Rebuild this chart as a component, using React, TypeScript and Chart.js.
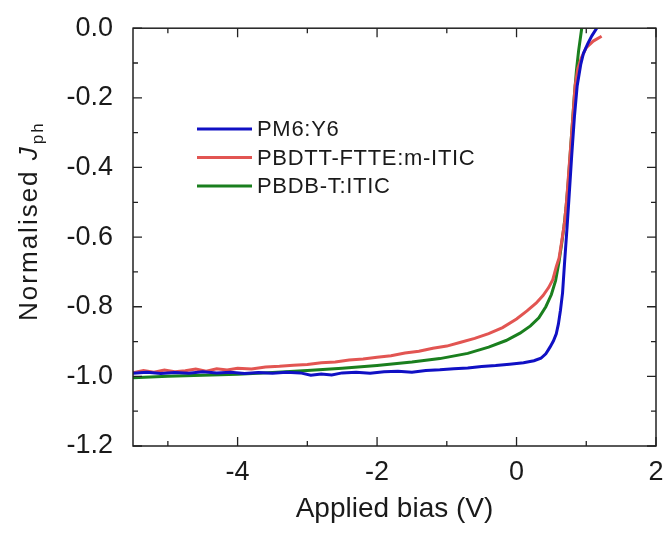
import React, { useEffect, useRef } from 'react';
import { Chart, registerables } from 'chart.js';

Chart.register(...registerables);

// ---- Data ----
const X_RANGE = [-5.5, 2];
const Y_RANGE = [-1.2, 0];
const X_TICKS = [-4, -2, 0, 2];
const X_MINOR = [-5, -3, -1, 1];
const Y_TICKS = [-1.2, -1.0, -0.8, -0.6, -0.4, -0.2, 0.0];
const Y_MINOR = [-1.1, -0.9, -0.7, -0.5, -0.3, -0.1];

const SERIES_LABELS = ['PM6:Y6', 'PBDTT-FTTE:m-ITIC', 'PBDB-T:ITIC'];

const PM6_X = [-5.5, -5.3, -5.1, -4.9, -4.7, -4.5, -4.3, -4.1, -3.9, -3.7, -3.5, -3.3, -3.1, -2.95, -2.8, -2.65, -2.5, -2.3, -2.1, -1.9, -1.7, -1.5, -1.3, -1.1, -0.9, -0.7, -0.5, -0.3, -0.1, 0.1, 0.25, 0.35, 0.42, 0.48, 0.53, 0.57, 0.6, 0.63, 0.66, 0.69, 0.72, 0.75, 0.79, 0.83, 0.87, 0.92, 0.96, 1.02, 1.08, 1.15];
const PM6_Y = [-0.991, -0.988, -0.992, -0.989, -0.991, -0.987, -0.99, -0.988, -0.992, -0.989, -0.991, -0.988, -0.99, -0.997, -0.993, -0.996, -0.99, -0.988, -0.991, -0.987, -0.985, -0.988, -0.983, -0.981, -0.978, -0.976, -0.972, -0.969, -0.965, -0.961, -0.955, -0.948, -0.935, -0.916, -0.898, -0.878, -0.85, -0.81, -0.76, -0.67, -0.585, -0.495, -0.37, -0.255, -0.165, -0.105, -0.072, -0.045, -0.022, 0.0];

const FTTE_X = [-5.5, -5.35, -5.2, -5.05, -4.9, -4.75, -4.6, -4.45, -4.3, -4.15, -4.0, -3.8, -3.6, -3.4, -3.2, -3.0, -2.8, -2.6, -2.4, -2.2, -2.0, -1.8, -1.6, -1.4, -1.2, -1.0, -0.8, -0.6, -0.4, -0.2, 0.0, 0.15, 0.28, 0.38, 0.46, 0.52, 0.57, 0.61, 0.65, 0.69, 0.72, 0.75, 0.78, 0.81, 0.84, 0.88, 0.93, 1.0, 1.1, 1.22];
const FTTE_Y = [-0.99, -0.983, -0.988, -0.982, -0.987, -0.984, -0.979, -0.985, -0.978, -0.982, -0.977, -0.979, -0.973, -0.971, -0.968, -0.966, -0.961, -0.959, -0.953, -0.95, -0.945, -0.941, -0.933, -0.928, -0.919, -0.913, -0.902, -0.891, -0.877, -0.86, -0.835, -0.812, -0.79, -0.768, -0.745, -0.722, -0.685, -0.66, -0.61, -0.555, -0.49, -0.41, -0.33, -0.25, -0.165, -0.115, -0.085, -0.056, -0.037, -0.023];

const ITIC_X = [-5.5, -5.0, -4.5, -4.0, -3.5, -3.0, -2.5, -2.0, -1.5, -1.1, -0.7, -0.4, -0.15, 0.05, 0.2, 0.32, 0.42, 0.5, 0.56, 0.61, 0.65, 0.68, 0.71, 0.74, 0.77, 0.8, 0.83, 0.86, 0.89, 0.935];
const ITIC_Y = [-1.004, -1.0, -0.997, -0.994, -0.989, -0.983, -0.977, -0.969, -0.959, -0.949, -0.934, -0.916, -0.897, -0.876, -0.855, -0.832, -0.8, -0.765, -0.725, -0.67, -0.615, -0.57, -0.515, -0.445, -0.36, -0.275, -0.19, -0.12, -0.065, 0.0];

const X_TITLE = 'Applied bias (V)';
const Y_TITLE_MAIN = 'Normalised ';
const Y_TITLE_ITALIC = 'J';
const Y_TITLE_SUB = 'ph';

// ---- Styles ----
const FONT = '"Liberation Sans", Arial, sans-serif';
const TEXT = '#1a1a1a';
const FRAME = '#222222';
const COLORS = ['#1010c4', '#e25552', '#1a7f1e'];

const toPoints = (xs: number[], ys: number[]) => xs.map((x, i) => ({ x, y: ys[i] }));

const framePlugin = {
  id: 'frameTicks',
  afterDatasetsDraw(chart: any) {
    const { ctx, chartArea: a, scales } = chart;
    const xs = scales.x, ys = scales.y;
    ctx.save();
    ctx.strokeStyle = FRAME;
    ctx.lineWidth = 1.5;
    ctx.strokeRect(a.left, a.top, a.right - a.left, a.bottom - a.top);
    ctx.lineWidth = 1.3;
    const major = 9, minor = 5;
    ctx.beginPath();
    const xt = (v: number, len: number) => {
      const px = xs.getPixelForValue(v);
      ctx.moveTo(px, a.bottom); ctx.lineTo(px, a.bottom - len);
      ctx.moveTo(px, a.top); ctx.lineTo(px, a.top + len);
    };
    const yt = (v: number, len: number) => {
      const py = ys.getPixelForValue(v);
      ctx.moveTo(a.left, py); ctx.lineTo(a.left + len, py);
      ctx.moveTo(a.right, py); ctx.lineTo(a.right - len, py);
    };
    X_TICKS.forEach((v) => xt(v, major));
    X_MINOR.forEach((v) => xt(v, minor));
    Y_TICKS.forEach((v) => yt(v, major));
    Y_MINOR.forEach((v) => yt(v, minor));
    ctx.stroke();
    ctx.restore();
  },
};

const legendPlugin = {
  id: 'insideLegend',
  afterDatasetsDraw(chart: any) {
    const { ctx } = chart;
    const x0 = 197, x1 = 252, tx = 257, y0 = 129, dy = 28.5;
    ctx.save();
    ctx.font = `22px ${FONT}`;
    (ctx as any).letterSpacing = '0.7px';
    ctx.textBaseline = 'middle';
    ctx.textAlign = 'left';
    chart.data.datasets.forEach((ds: any, i: number) => {
      const y = y0 + i * dy;
      ctx.strokeStyle = ds.borderColor;
      ctx.lineWidth = 3;
      ctx.beginPath();
      ctx.moveTo(x0, y);
      ctx.lineTo(x1, y);
      ctx.stroke();
      ctx.fillStyle = TEXT;
      ctx.fillText(ds.label, tx, y + 1);
    });
    ctx.restore();
  },
};

const yTitlePlugin = {
  id: 'yTitle',
  afterDraw(chart: any) {
    const { ctx, chartArea: a } = chart;
    ctx.save();
    ctx.fillStyle = TEXT;
    (ctx as any).letterSpacing = '2px';
    const fMain = `26px ${FONT}`;
    const fItal = `italic 26px ${FONT}`;
    const fSub = `17px ${FONT}`;
    ctx.font = fMain;
    const w1 = ctx.measureText(Y_TITLE_MAIN).width;
    ctx.font = fItal;
    const w2 = ctx.measureText(Y_TITLE_ITALIC).width;
    ctx.font = fSub;
    const w3 = ctx.measureText(Y_TITLE_SUB).width;
    const total = w1 + w2 + w3 + 1;
    const cy = (a.top + a.bottom) / 2 - 16;
    ctx.translate(37, cy + total / 2);
    ctx.rotate(-Math.PI / 2);
    ctx.textBaseline = 'alphabetic';
    ctx.textAlign = 'left';
    ctx.font = fMain;
    ctx.fillText(Y_TITLE_MAIN, 0, 0);
    ctx.font = fItal;
    ctx.fillText(Y_TITLE_ITALIC, w1, 0);
    ctx.font = fSub;
    ctx.fillText(Y_TITLE_SUB, w1 + w2 + 1, 6);
    ctx.restore();
  },
};

export default function App() {
  const ref = useRef<HTMLCanvasElement | null>(null);

  useEffect(() => {
    if (!ref.current) return;
    const series = [
      toPoints(PM6_X, PM6_Y),
      toPoints(FTTE_X, FTTE_Y),
      toPoints(ITIC_X, ITIC_Y),
    ];
    const chart = new Chart(ref.current, {
      type: 'line',
      data: {
        datasets: series.map((d, i) => ({
          label: SERIES_LABELS[i],
          data: d,
          borderColor: COLORS[i],
          backgroundColor: COLORS[i],
          borderWidth: 3,
          pointRadius: 0,
          tension: 0,
          fill: false,
        })),
      },
      options: {
        responsive: false,
        animation: false,
        layout: { padding: { left: 0, right: 11, top: 27, bottom: 0 } },
        plugins: {
          legend: { display: false },
          tooltip: { enabled: false },
        },
        scales: {
          x: {
            type: 'linear',
            min: X_RANGE[0],
            max: X_RANGE[1],
            grid: { display: false },
            border: { display: false },
            afterBuildTicks: (s: any) => {
              s.ticks = X_TICKS.map((v) => ({ value: v }));
            },
            afterFit: (s: any) => {
              s.height = 90;
            },
            ticks: {
              color: TEXT,
              padding: 2,
              maxRotation: 0,
              font: { family: FONT, size: 27 },
              callback: (v: any) => String(v),
            },
            title: {
              display: true,
              text: X_TITLE,
              color: TEXT,
              font: { family: FONT, size: 28 },
              padding: { top: 0, bottom: 10 },
            },
          },
          y: {
            type: 'linear',
            min: Y_RANGE[0],
            max: Y_RANGE[1],
            grid: { display: false },
            border: { display: false },
            afterBuildTicks: (s: any) => {
              s.ticks = Y_TICKS.map((v) => ({ value: v }));
            },
            afterFit: (s: any) => {
              s.width = 133;
            },
            ticks: {
              color: TEXT,
              padding: 12,
              font: { family: FONT, size: 27 },
              callback: (v: any) => Number(v).toFixed(1),
            },
          },
        },
      },
      plugins: [framePlugin, legendPlugin, yTitlePlugin],
    } as any);
    return () => chart.destroy();
  }, []);

  return (
    <div style={{ position: 'absolute', left: 0, top: 0, width: 667, height: 536, background: '#fff' }}>
      <canvas ref={ref} width={667} height={536} style={{ width: 667, height: 536, display: 'block' }} />
    </div>
  );
}
